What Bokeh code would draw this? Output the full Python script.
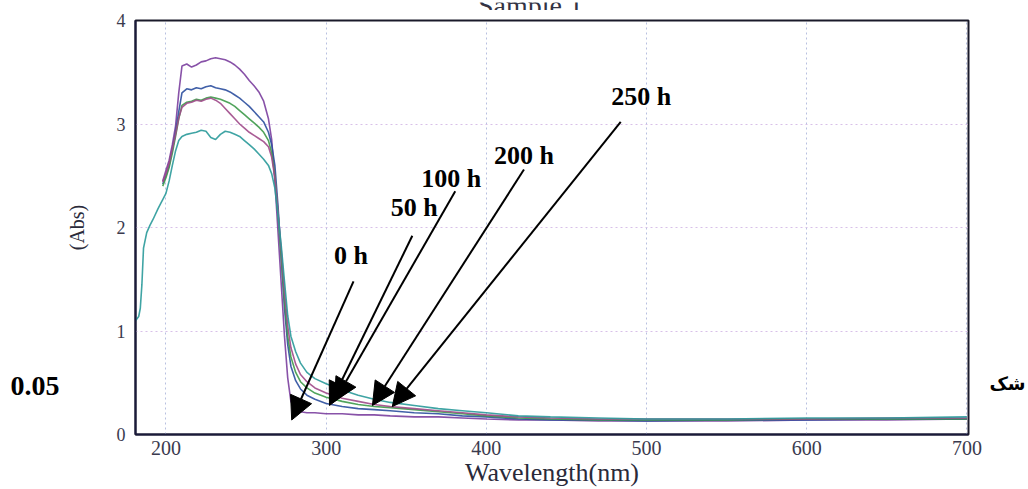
from bokeh.plotting import figure
from bokeh.layouts import column, row
from bokeh.models import ColumnDataSource, Arrow, NormalHead, Label, FixedTicker, Range1d
from bokeh.core.properties import value
from bokeh.embed import file_html
from bokeh.resources import INLINE

# ---------------- data ----------------
wavelength = [198, 200, 202, 204, 206, 208, 210, 213, 216, 219, 222, 225, 228, 231, 234, 237,
              240, 243, 246, 249, 252, 255, 258, 261, 264, 266, 268, 270, 272, 274, 276, 278,
              281, 284, 288, 293, 300, 310, 320, 330, 340, 355, 370, 385, 400,
              420, 440, 470, 500, 550, 600, 650, 700]

abs_0h = [2.45, 2.55, 2.65, 2.80, 2.98, 3.30, 3.56, 3.58, 3.55, 3.57, 3.60, 3.61, 3.63, 3.64, 3.63, 3.62,
          3.60, 3.57, 3.53, 3.48, 3.42, 3.37, 3.31, 3.22, 3.05, 2.85, 2.45, 1.95, 1.45, 0.95, 0.55, 0.32,
          0.24, 0.22, 0.21, 0.21, 0.20, 0.20, 0.19, 0.19, 0.18, 0.17, 0.17, 0.16, 0.15,
          0.14, 0.14, 0.13, 0.13, 0.13, 0.14, 0.14, 0.15]

abs_50h = [2.42, 2.50, 2.60, 2.75, 2.92, 3.12, 3.30, 3.34, 3.33, 3.35, 3.34, 3.36, 3.37, 3.35, 3.34, 3.33,
           3.31, 3.28, 3.25, 3.21, 3.17, 3.12, 3.07, 3.02, 2.92, 2.80, 2.60, 2.20, 1.70, 1.22, 0.87, 0.66,
           0.52, 0.44, 0.38, 0.34, 0.30, 0.27, 0.25, 0.24, 0.23, 0.21, 0.20, 0.18, 0.17,
           0.15, 0.14, 0.14, 0.13, 0.14, 0.14, 0.15, 0.15]

abs_100h = [2.40, 2.48, 2.58, 2.72, 2.88, 3.05, 3.18, 3.21, 3.22, 3.24, 3.23, 3.25, 3.26, 3.25, 3.24, 3.22,
            3.20, 3.17, 3.13, 3.09, 3.05, 3.01, 2.97, 2.92, 2.84, 2.72, 2.50, 2.12, 1.70, 1.28, 0.95, 0.75,
            0.60, 0.51, 0.45, 0.40, 0.36, 0.32, 0.29, 0.27, 0.26, 0.24, 0.22, 0.20, 0.18,
            0.16, 0.15, 0.14, 0.14, 0.14, 0.15, 0.15, 0.15]

abs_200h = [2.44, 2.52, 2.62, 2.76, 2.90, 3.06, 3.16, 3.20, 3.21, 3.23, 3.22, 3.24, 3.25, 3.23, 3.20, 3.15,
            3.10, 3.05, 3.00, 2.96, 2.92, 2.89, 2.86, 2.83, 2.78, 2.68, 2.48, 2.15, 1.78, 1.38, 1.05, 0.84,
            0.68, 0.58, 0.51, 0.45, 0.40, 0.35, 0.32, 0.29, 0.27, 0.25, 0.23, 0.21, 0.19,
            0.17, 0.16, 0.15, 0.15, 0.15, 0.15, 0.16, 0.16]

wavelength_ext = [181, 183, 184, 185, 186, 188, 190, 192, 195, 197]
abs_250h_ext = [1.10, 1.14, 1.22, 1.45, 1.80, 1.95, 2.02, 2.08, 2.18, 2.24]
abs_250h = [2.27, 2.33, 2.45, 2.60, 2.74, 2.84, 2.88, 2.90, 2.91, 2.92, 2.94, 2.93, 2.87, 2.85, 2.90, 2.93,
            2.92, 2.90, 2.88, 2.84, 2.80, 2.76, 2.71, 2.66, 2.60, 2.52, 2.38, 2.12, 1.82, 1.48, 1.15, 0.95,
            0.80, 0.69, 0.60, 0.54, 0.49, 0.43, 0.38, 0.34, 0.31, 0.28, 0.25, 0.23, 0.21,
            0.18, 0.17, 0.16, 0.15, 0.15, 0.16, 0.16, 0.17]

series_names = ["0 h", "50 h", "100 h", "200 h", "250 h"]
series_colors = ["#7b3f9e", "#2c4f9e", "#3e9a4a", "#a04a8a", "#2a9a9a"]

# annotation anchors (label position, arrow start, arrow tip) in data units
label_x = [315.5, 355.0, 378.1, 423.5, 496.7]
label_y = [1.73, 2.19, 2.47, 2.70, 3.27]
arrow_x0 = [317.1, 353.8, 380.6, 423.5, 483.9]
arrow_y0 = [1.48, 1.92, 2.35, 2.56, 3.02]
arrow_x1 = [278.5, 302.1, 305.2, 328.9, 341.3]
arrow_y1 = [0.14, 0.28, 0.32, 0.28, 0.27]

x_ticks = [200, 300, 400, 500, 600, 700]
y_ticks = [0, 1, 2, 3, 4]

title_text = "Sample 1"
left_text = "0.05"
right_text = "شک"

SVG = "svg"


def blank(width, height, xr, yr):
    f = figure(width=width, height=height, output_backend=SVG, toolbar_location=None,
               x_range=Range1d(*xr), y_range=Range1d(*yr),
               x_axis_type=None, y_axis_type=None,
               min_border_left=0, min_border_right=0, min_border_top=0, min_border_bottom=0)
    f.grid.visible = False
    f.outline_line_color = None
    f.background_fill_color = "white"
    f.border_fill_color = "white"
    return f


# ---------------- top strip: title, cut off by the top edge ----------------
top = blank(1028, 10, (0, 1028), (10, 0))
top.text(x=[530], y=[3], text=[title_text], text_font=value("Liberation Serif"),
         text_font_size="28px", text_color="#333344", text_align="center",
         text_baseline="alphabetic")

# ---------------- left / right strips with stray page text ----------------
# (their frames are aligned with the main chart's frame: page y 20 .. 437)
left = blank(62, 479, (0, 62), (437, 20))
left.text(x=[10], y=[388], text=[left_text], text_font=value("Liberation Serif"),
          text_font_style="bold", text_font_size="28px", text_color="black",
          text_align="left", text_baseline="middle")

right = blank(43, 479, (985, 1028), (437, 20))
right.text(x=[1007], y=[386], text=[right_text], text_font=value("DejaVu Sans"),
           text_font_style="bold", text_font_size="18px", text_color="black",
           text_align="center", text_baseline="middle")

# ---------------- main chart ----------------
p = figure(width=923, height=479, output_backend=SVG, toolbar_location=None,
           x_range=Range1d(181, 701), y_range=Range1d(0, 4),
           min_border_left=73, min_border_right=17, min_border_top=10, min_border_bottom=52)
p.background_fill_color = "white"
p.border_fill_color = "white"
p.outline_line_color = "#1a1a2a"
p.outline_line_width = 2

for ax, ticks in ((p.xaxis[0], x_ticks), (p.yaxis[0], y_ticks)):
    ax.ticker = FixedTicker(ticks=ticks)
    ax.major_tick_out = 0
    ax.major_tick_in = 0
    ax.minor_tick_out = 0
    ax.minor_tick_in = 0
    ax.axis_line_color = "#1a1a3a"
    ax.axis_line_width = 2
    ax.major_label_text_font = "Liberation Serif"
    ax.major_label_text_color = "#3a3a4e"
    ax.axis_label_text_font = "Liberation Serif"
    ax.axis_label_text_font_style = "normal"
    ax.axis_label_text_color = "#2a2a3a"

p.xaxis.major_label_text_font_size = "20px"
p.xaxis.major_label_standoff = 6
p.xaxis.axis_label = "Wavelength(nm)"
p.xaxis.axis_label_text_font_size = "26px"
p.xaxis.axis_label_standoff = 0

p.yaxis.major_label_text_font_size = "18px"
p.yaxis.major_label_standoff = 10
p.yaxis.axis_label = "(Abs)"
p.yaxis.axis_label_text_font_size = "20px"
p.yaxis.axis_label_standoff = 26

p.xgrid.grid_line_color = "#b8c0e0"
p.xgrid.grid_line_dash = "2 3"
p.xgrid.grid_line_width = 1
p.ygrid.grid_line_color = "#d8c0e8"
p.ygrid.grid_line_dash = "2 3"
p.ygrid.grid_line_width = 1

all_abs = [abs_0h, abs_50h, abs_100h, abs_200h, abs_250h]
for name, col, vals in zip(series_names, series_colors, all_abs):
    xs = list(wavelength)
    ys = list(vals)
    if name == "250 h":
        xs = wavelength_ext + xs
        ys = abs_250h_ext + ys
    src = ColumnDataSource(dict(x=xs, y=ys))
    p.line("x", "y", source=src, line_color=col, line_width=1.6, line_alpha=0.9)

for i, name in enumerate(series_names):
    p.add_layout(Arrow(end=NormalHead(size=23, fill_color="black", line_color="black"),
                       x_start=arrow_x0[i], y_start=arrow_y0[i],
                       x_end=arrow_x1[i], y_end=arrow_y1[i],
                       line_color="black", line_width=2))
    p.add_layout(Label(x=label_x[i], y=label_y[i], text=name,
                       text_font="Liberation Serif", text_font_style="bold",
                       text_font_size="26px", text_color="black",
                       text_align="center", text_baseline="middle"))

layout = column(top, row(left, p, right, spacing=0), spacing=0)

open("out.html", "w").write(file_html(layout, INLINE))
